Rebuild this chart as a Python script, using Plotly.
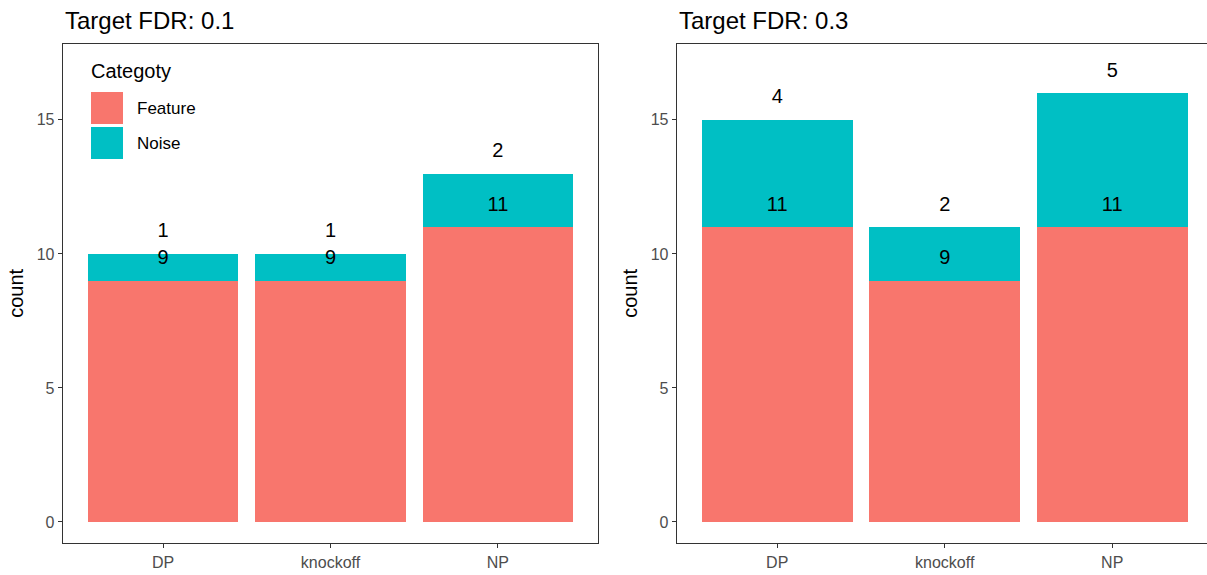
import plotly.graph_objects as go

# ---- data ----
methods = ["DP", "knockoff", "NP"]
feature_fdr01 = [9, 9, 11]
noise_fdr01 = [1, 1, 2]
feature_fdr03 = [11, 9, 11]
noise_fdr03 = [4, 2, 5]
panel_titles = ["Target FDR: 0.1", "Target FDR: 0.3"]
categories = ["Feature", "Noise"]
y_ticks = [0, 5, 10, 15]

# ---- styles ----
W, H = 1207, 575
colors = {"Feature": "#F8766D", "Noise": "#00BFC4"}
FONT = "Liberation Sans, Arial, sans-serif"
LABEL_OFFSET = 0.8

fig = go.Figure()

panels = [
    (feature_fdr01, noise_fdr01, "x", "y"),
    (feature_fdr03, noise_fdr03, "x2", "y2"),
]
for feat, noise, xa, ya in panels:
    for cat, vals in zip(categories, [feat, noise]):
        fig.add_trace(go.Bar(x=methods, y=vals, name=cat, marker_color=colors[cat],
                             marker_line_width=0, xaxis=xa, yaxis=ya, showlegend=False,
                             hoverinfo="skip"))
    # labels: at the top of each stacked segment
    feat_label_y = [f + LABEL_OFFSET for f in feat]
    noise_label_y = [f + n + LABEL_OFFSET for f, n in zip(feat, noise)]
    fig.add_trace(go.Scatter(x=methods + methods, y=feat_label_y + noise_label_y,
                             text=[str(v) for v in feat + noise], mode="text",
                             textfont=dict(family=FONT, size=20, color="black"),
                             xaxis=xa, yaxis=ya, showlegend=False, hoverinfo="skip"))

def px_x(p):
    return p / W

def px_y(p):
    return 1 - p / H

ydom = [px_y(543.3), px_y(44.3)]
yrange = [-0.795, 17.82]
unit = 167.5

axis_common = dict(showline=True, linecolor="#333333", linewidth=1.1, ticks="outside",
                   ticklen=4, tickwidth=1.1, tickcolor="#333333", showgrid=False,
                   zeroline=False, tickfont=dict(family=FONT, size=16, color="#4D4D4D"))

fig.update_layout(
    width=W, height=H, barmode="stack", bargap=0.1,
    margin=dict(l=0, r=0, t=0, b=0),
    plot_bgcolor="white", paper_bgcolor="white",
    xaxis=dict(domain=[px_x(62.7), px_x(598.3)], range=[-0.6, 2.6], mirror=True,
               anchor="y", **axis_common),
    yaxis=dict(domain=ydom, range=yrange, tickvals=y_ticks, mirror=True, anchor="x",
               **axis_common),
    xaxis2=dict(domain=[px_x(676.7), 1.0], range=[-0.6, -0.6 + (W - 676.7) / unit],
                mirror=True, anchor="y2", **axis_common),
    yaxis2=dict(domain=ydom, range=yrange, tickvals=y_ticks, anchor="x2", **axis_common),
)

# panel titles
for title, xp in zip(panel_titles, [63, 677]):
    fig.add_annotation(text=title, x=px_x(xp), y=px_y(21), xref="paper", yref="paper",
                       xanchor="left", yanchor="middle", showarrow=False,
                       font=dict(family=FONT, size=24, color="black"))

# y axis titles
for xp in [16, 630]:
    fig.add_annotation(text="count", x=px_x(xp), y=px_y(293.8), xref="paper", yref="paper",
                       xanchor="center", yanchor="middle", showarrow=False, textangle=-90,
                       font=dict(family=FONT, size=20, color="black"))

# legend (drawn manually, ggplot style)
fig.add_annotation(text="Categoty", x=px_x(89), y=px_y(71), xref="paper", yref="paper",
                   xanchor="left", yanchor="middle", showarrow=False,
                   font=dict(family=FONT, size=20, color="black"))
key_tops = [92, 127]
for cat, top in zip(categories, key_tops):
    fig.add_shape(type="rect", xref="paper", yref="paper",
                  x0=px_x(91), x1=px_x(123), y0=px_y(top + 32), y1=px_y(top),
                  fillcolor=colors[cat], line_width=0)
    fig.add_annotation(text=cat, x=px_x(135), y=px_y(top + 16.5), xref="paper", yref="paper",
                       xanchor="left", yanchor="middle", showarrow=False,
                       font=dict(family=FONT, size=17, color="black"))

fig.write_html(
    "out.html",
    config={"displayModeBar": False},
    post_script="document.body.style.margin='0';document.body.style.overflow='hidden';",
)
